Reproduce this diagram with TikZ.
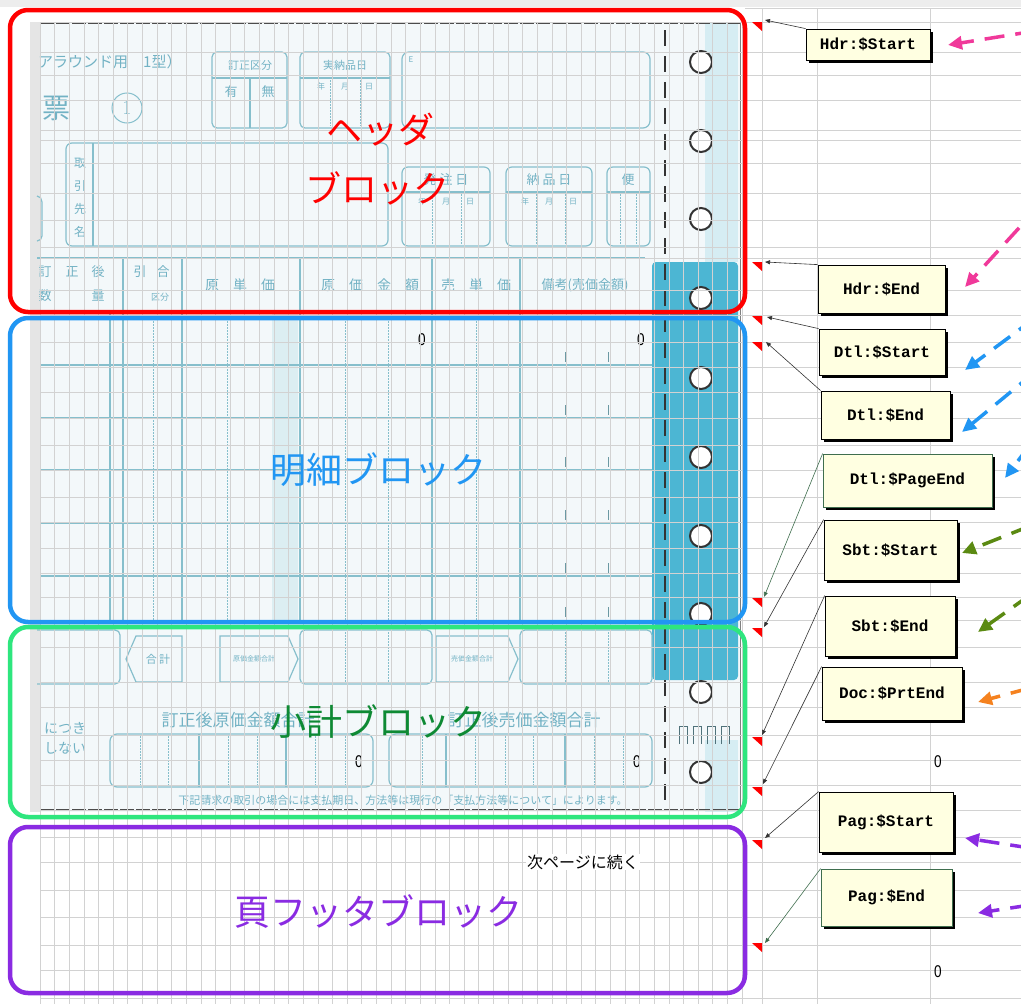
\documentclass[tikz,border=0pt]{standalone}
\usepackage{fontspec}
\newfontfamily\jp{Noto Sans CJK JP}
\newfontfamily\cmono{Liberation Mono}
\newfontfamily\lsans{Liberation Sans}
\usetikzlibrary{arrows.meta,shadows}
\definecolor{redc}{HTML}{FF0000}
\definecolor{bluec}{HTML}{2196F3}
\definecolor{greenbox}{HTML}{2EE67E}
\definecolor{greentxt}{HTML}{0E8A34}
\definecolor{purplec}{HTML}{8A2BE2}
\definecolor{pinkc}{HTML}{F0399A}
\definecolor{olivec}{HTML}{5B8A12}
\definecolor{orangec}{HTML}{F5821F}
\definecolor{combg}{HTML}{FFFFE1}
\definecolor{gridgray}{HTML}{D2D2D2}
\definecolor{formbg}{HTML}{F3F8FA}
\definecolor{formline}{HTML}{86BFCC}
\definecolor{formtext}{HTML}{72B2C4}
\definecolor{stripblue}{HTML}{4CB6D3}
\definecolor{lightcyan}{HTML}{D6EDF3}
\definecolor{shadecol}{HTML}{DCEEF2}
\definecolor{linkgreen}{HTML}{3F6E4E}
\begin{document}
\begin{tikzpicture}[x=1pt,y=-1pt,
  grid/.style={draw=gridgray,line width=0.6pt},
  fline/.style={draw=formline,line width=1.2pt},
  fdot/.style={draw=formline,line width=0.9pt,dash pattern=on 1.5pt off 1.5pt},
  ftext/.style={text=formtext,font=\jp\fontsize{13}{14}\selectfont,inner sep=0pt},
  fsmall/.style={text=formtext,font=\jp\fontsize{8}{9}\selectfont,inner sep=0pt},
  zero/.style={font=\lsans\fontsize{17}{18}\selectfont,inner sep=0pt,text=black,xscale=0.8},
  combox/.style={draw=black,line width=0.8pt,fill=combg,inner sep=0pt,
    font=\cmono\bfseries\fontsize{16}{18}\selectfont,
    drop shadow={shadow xshift=3pt,shadow yshift=-3pt,fill=black,opacity=1}},
  comlink/.style={draw=black!80,line width=0.6pt,-{Triangle[length=5pt,width=4pt]}},
  bigarrow/.style={line width=3.5pt,dash pattern=on 20pt off 11pt,-{Triangle[length=14pt,width=13pt]}},
  blocklbl/.style={font=\jp\fontsize{36}{40}\selectfont,inner sep=0pt},
  blockbox/.style={line width=4.5pt,rounded corners=18pt}
]
\clip (0,0) rectangle (1021,1004);
\fill[white] (0,0) rectangle (1021,1004);
\fill[black!7] (0,0) rectangle (1021,7);
% ---------- form background ----------
\fill[black!10] (30,22) rectangle (40,812);
\fill[formbg] (40,22) rectangle (740,812);
\fill[lightcyan] (705,22) rectangle (738,262);
\fill[lightcyan] (705,740) rectangle (738,812);
\fill[stripblue,rounded corners=4pt] (652,262) rectangle (738,680);
\fill[shadecol] (272,312) rectangle (298,620);
\draw[black!50,line width=1pt] (740,22) -- (740,812);
\draw[black!70,line width=1.8pt,dash pattern=on 14pt off 2pt] (40,23) -- (740,23);
\draw[black!70,line width=1.8pt,dash pattern=on 14pt off 2pt] (40,810) -- (740,810);
\draw[black!80,line width=1.5pt,dash pattern=on 16pt off 10pt] (665,30) -- (665,808);
% header
\node[ftext,anchor=west,font=\jp\fontsize{15}{16}\selectfont] (h1) at (38,62) {アラウンド用　1型）};
\node[ftext,font=\jp\fontsize{28}{30}\selectfont] (h2) at (56,108) {票};
\draw[formline,line width=1pt] (127,108) circle (15);
\node[ftext,font=\fontsize{20}{22}\selectfont] (h3) at (127,108) {1};
\draw[fline,rounded corners=5pt] (212,52) rectangle (287,128);
\draw[fline] (212,78) -- (287,78) (250,78) -- (250,128);
\node[ftext,font=\jp\fontsize{11}{12}\selectfont] (h4) at (250,65) {訂正区分};
\node[ftext] (h5) at (231,92) {有};
\node[ftext] (h6) at (268,92) {無};
\draw[fline,rounded corners=5pt] (300,52) rectangle (390,128);
\draw[fline] (300,78) -- (390,78);
\draw[fdot] (330,80) -- (330,126) (360,80) -- (360,126);
\node[ftext,font=\jp\fontsize{11}{12}\selectfont] (h7) at (345,65) {実納品日};
\node[fsmall] (h8) at (345,86) {年　　月　　日};
\draw[fline,rounded corners=7pt] (402,52) rectangle (650,128);
\node[fsmall] (h9) at (411,60) {E};
\draw[fline,rounded corners=6pt] (66,143) rectangle (388,246);
\draw[fline] (93,143) -- (93,246);
\node[ftext,font=\jp\fontsize{12}{13}\selectfont] (h10) at (80,163) {取};
\node[ftext,font=\jp\fontsize{12}{13}\selectfont] (h11) at (80,186) {引};
\node[ftext,font=\jp\fontsize{12}{13}\selectfont] (h12) at (80,209) {先};
\node[ftext,font=\jp\fontsize{12}{13}\selectfont] (h13) at (80,232) {名};
\draw[fline] (37,196) to[out=0,in=90] (42,202) -- (42,236) to[out=-90,in=0] (37,241);
\draw[fline,rounded corners=6pt] (402,167) rectangle (490,246);
\draw[fline] (402,192) -- (490,192);
\draw[fdot] (432,194) -- (432,244) (461,194) -- (461,244);
\node[ftext] (h14) at (446,180) {発 注 日};
\node[fsmall] (h15) at (446,201) {年　　月　　日};
\draw[fline,rounded corners=6pt] (506,167) rectangle (592,246);
\draw[fline] (506,192) -- (592,192);
\draw[fdot] (536,194) -- (536,244) (565,194) -- (565,244);
\node[ftext] (h16) at (549,180) {納 品 日};
\node[fsmall] (h17) at (549,201) {年　　月　　日};
\draw[fline,rounded corners=6pt] (607,167) rectangle (650,246);
\draw[fline] (607,192) -- (650,192);
\draw[fdot] (620,194) -- (620,244) (636,194) -- (636,244);
\node[ftext] (h18) at (628,180) {便};
% header row of the table
\draw[fline] (37,258) -- (645,258);
\draw[fline] (37,312) -- (652,312);
\foreach \xx in {123,182,300,432,520} {\draw[fline] (\xx,258) -- (\xx,620);}
\draw[fline] (110,312) -- (110,620);
\node[ftext] (r1) at (45,272) {訂};
\node[ftext] (r2) at (72,272) {正};
\node[ftext] (r3) at (98,272) {後};
\node[ftext] (r4) at (45,296) {数};
\node[ftext] (r5) at (98,296) {量};
\node[ftext] (r6) at (140,272) {引};
\node[ftext] (r7) at (163,272) {合};
\node[ftext,font=\jp\fontsize{9}{10}\selectfont] (r8) at (160,297) {区分};
\node[ftext,font=\jp\fontsize{14}{15}\selectfont] (r9) at (240,285) {原　単　価};
\node[ftext,font=\jp\fontsize{14}{15}\selectfont] (r10) at (370,285) {原　価　金　額};
\node[ftext,font=\jp\fontsize{14}{15}\selectfont] (r11) at (476,285) {売　単　価};
\node[ftext,font=\jp\fontsize{13}{14}\selectfont] (r12) at (585,285) {備考(売価金額)};
% detail rows
\foreach \yy in {365,418,470,523,576} {\draw[fline] (40,\yy) -- (652,\yy);}
\foreach \xx in {153,227,345,388,476} {\draw[fdot] (\xx,312) -- (\xx,620);}
\foreach \yy in {365,418,470,523,576,620} {
  \draw[formline!80!black,line width=0.8pt] (565,\yy-13) -- (565,\yy-3) (608,\yy-13) -- (608,\yy-3);}
\node[zero] (z1) at (422,340) {0};
\node[zero] (z2) at (641,340) {0};
% subtotal area
\draw[fline,rounded corners=5pt] (37,630) -- (120,630) -- (120,684) -- (37,684);
\draw[fline] (182,636) -- (136,636) -- (126,659) -- (136,682) -- (182,682) -- cycle;
\node[ftext,font=\jp\fontsize{11}{12}\selectfont] (s1) at (158,659) {合 計};
\draw[fline] (220,636) -- (288,636) -- (298,659) -- (288,682) -- (220,682) -- cycle;
\node[ftext,font=\jp\fontsize{7}{8}\selectfont] (s2) at (254,659) {原価金額合計};
\draw[fline,rounded corners=5pt] (300,630) rectangle (432,684);
\draw[fdot] (345,632) -- (345,682) (388,632) -- (388,682);
\draw[fline] (436,636) -- (508,636) -- (518,659) -- (508,682) -- (436,682) -- cycle;
\node[ftext,font=\jp\fontsize{7}{8}\selectfont] (s3) at (472,659) {売価金額合計};
\draw[fline,rounded corners=5pt] (520,630) rectangle (652,684);
\draw[fdot] (565,632) -- (565,682) (608,632) -- (608,682);
\node[ftext,anchor=west,font=\jp\fontsize{14}{15}\selectfont] (s4) at (44,728) {につき};
\node[ftext,anchor=west,font=\jp\fontsize{14}{15}\selectfont] (s5) at (44,748) {しない};
\node[ftext,font=\jp\fontsize{17}{18}\selectfont] (s6) at (238,720) {訂正後原価金額合計};
\node[ftext,font=\jp\fontsize{17}{18}\selectfont] (s7) at (524,720) {訂正後売価金額合計};
\draw[fline,rounded corners=7pt] (110,734) rectangle (373,787);
\draw[fline,rounded corners=7pt] (389,734) rectangle (652,787);
\draw[fline] (199,734) -- (199,787) (286,734) -- (286,787) (446,734) -- (446,787) (565,734) -- (565,787);
\foreach \xx in {140,168,228,257,315,345,422,475,505,533,594,623} {\draw[fdot] (\xx,736) -- (\xx,785);}
\node[zero] (z3) at (359,762) {0};
\node[zero] (z4) at (637,762) {0};
\node[ftext,font=\jp\fontsize{11}{12}\selectfont] (s8) at (403,800) {下記請求の取引の場合には支払期日、方法等は現行の「支払方法等について」によります。};
\foreach \xx in {683,697,711,725} {
  \draw[black!40!formline,line width=1pt] (\xx-4,744) -- (\xx-4,726) -- (\xx+4,726) -- (\xx+4,744);}
% punch holes
\foreach \yy in {62,141,219,298,378,457,536,614,692,772} {
  \draw[black!80,line width=2pt,fill=white] (701,\yy) circle (11);}
% ---------- spreadsheet grid ----------
\foreach \i in {0,...,48} {\draw[grid] (40+\i*14.625,22) -- (40+\i*14.625,1004);}
\foreach \xx in {762,817,930} {\draw[grid] (\xx,8) -- (\xx,1004);}
\foreach \yy in {22,52,75,100,130,140,163,193,220,247,258,290,315,342,367,392,418,445,470,497,522,548,573,597,620,647,682,707,735,760,785,810,837,862,890,917,945,970,998}
  {\draw[grid] (40,\yy) -- (1021,\yy);}
\draw[grid] (745,8) -- (1021,8);
% footer text and sheet values
\node[font=\jp\fontsize{16}{17}\selectfont,inner sep=1pt,fill=white] (f1) at (583,862) {次ページに続く};
\node[zero] (z5) at (938,762) {0};
\node[zero] (z6) at (938,972) {0};
% ---------- block frames and labels ----------
\draw[blockbox,draw=redc] (10,10) rectangle (745,312);
\draw[blockbox,draw=bluec] (10,318) rectangle (745,622);
\draw[blockbox,draw=greenbox] (10,627) rectangle (745,817);
\draw[blockbox,draw=purplec] (10,827) rectangle (745,993);
\node[blocklbl,text=redc] (L1) at (380,130) {ヘッダ};
\node[blocklbl,text=redc] (L2) at (377,188) {ブロック};
\node[blocklbl,text=bluec] (L3) at (378,470) {明細ブロック};
\node[blocklbl,text=greentxt] (L4) at (378,722) {小計ブロック};
\node[blocklbl,text=purplec] (L5) at (378,912) {頁フッタブロック};
% ---------- comment markers ----------
\foreach \yy in {22,262,316,342,598,628,737,787,840,943} {
  \fill[redc] (752,\yy) -- (762,\yy) -- (762,\yy+9) -- cycle;}
\coordinate (a1) at (765,20);
\coordinate (a2) at (765,262);
\coordinate (a3) at (767,317);
\coordinate (a4) at (766,342);
\coordinate (a5) at (764,597);
\coordinate (a6) at (764,627);
\coordinate (a7) at (762,735);
\coordinate (a8) at (763,784);
\coordinate (a9) at (765,838);
\coordinate (a10) at (765,943);
% ---------- comment boxes ----------
\node[combox,minimum width=124pt,minimum height=31pt] (c1) at (868,44.5) {Hdr:\$Start};
\node[combox,minimum width=127pt,minimum height=48pt] (c2) at (881.5,289) {Hdr:\$End};
\node[combox,minimum width=126pt,minimum height=46pt] (c3) at (882,352) {Dtl:\$Start};
\node[combox,minimum width=129pt,minimum height=48pt] (c4) at (885.5,415) {Dtl:\$End};
\node[combox,draw=linkgreen,minimum width=169pt,minimum height=53pt] (c5) at (907.5,480.5) {Dtl:\$PageEnd};
\node[combox,minimum width=133pt,minimum height=60pt] (c6) at (890.5,550) {Sbt:\$Start};
\node[combox,minimum width=130pt,minimum height=60pt] (c7) at (890,626) {Sbt:\$End};
\node[combox,minimum width=140pt,minimum height=53pt] (c8) at (892,693.5) {Doc:\$PrtEnd};
\node[combox,minimum width=134pt,minimum height=60pt] (c9) at (886,822) {Pag:\$Start};
\node[combox,draw=linkgreen,minimum width=131pt,minimum height=57pt] (c10) at (886.5,897.5) {Pag:\$End};
\draw[comlink] (c1.north west) -- (a1);
\draw[comlink] (c2.north west) -- (a2);
\draw[comlink] (c3.north west) -- (a3);
\draw[comlink] (c4.north west) -- (a4);
\draw[comlink,draw=linkgreen] (c5.north west) -- (a5);
\draw[comlink] (c6.north west) -- (a6);
\draw[comlink] (c7.north west) -- (a7);
\draw[comlink] (c8.north west) -- (a8);
\draw[comlink] (c9.north west) -- (a9);
\draw[comlink,draw=linkgreen] (c10.north west) -- (a10);
% ---------- coloured pointer arrows ----------
\coordinate (p1s) at (1035,31);  \coordinate (p1e) at (948,45);
\coordinate (p2s) at (1040,205); \coordinate (p2e) at (965,287);
\coordinate (b1s) at (1035,318); \coordinate (b1e) at (965,370);
\coordinate (b2s) at (1035,372); \coordinate (b2e) at (962,432);
\coordinate (b3s) at (1030,445); \coordinate (b3e) at (1005,478);
\coordinate (g1s) at (1030,526); \coordinate (g1e) at (962,553);
\coordinate (g2s) at (1030,595); \coordinate (g2e) at (978,632);
\coordinate (o1s) at (1030,688); \coordinate (o1e) at (978,702);
\coordinate (u1s) at (1030,848); \coordinate (u1e) at (965,838);
\coordinate (u2s) at (1030,905); \coordinate (u2e) at (978,913);
\draw[bigarrow,pinkc] (p1s) -- (p1e);
\draw[bigarrow,pinkc] (p2s) -- (p2e);
\draw[bigarrow,bluec] (b1s) -- (b1e);
\draw[bigarrow,bluec] (b2s) -- (b2e);
\draw[bigarrow,bluec] (b3s) -- (b3e);
\draw[bigarrow,olivec] (g1s) -- (g1e);
\draw[bigarrow,olivec] (g2s) -- (g2e);
\draw[bigarrow,orangec] (o1s) -- (o1e);
\draw[bigarrow,purplec] (u1s) -- (u1e);
\draw[bigarrow,purplec] (u2s) -- (u2e);
\end{tikzpicture}
\end{document}
